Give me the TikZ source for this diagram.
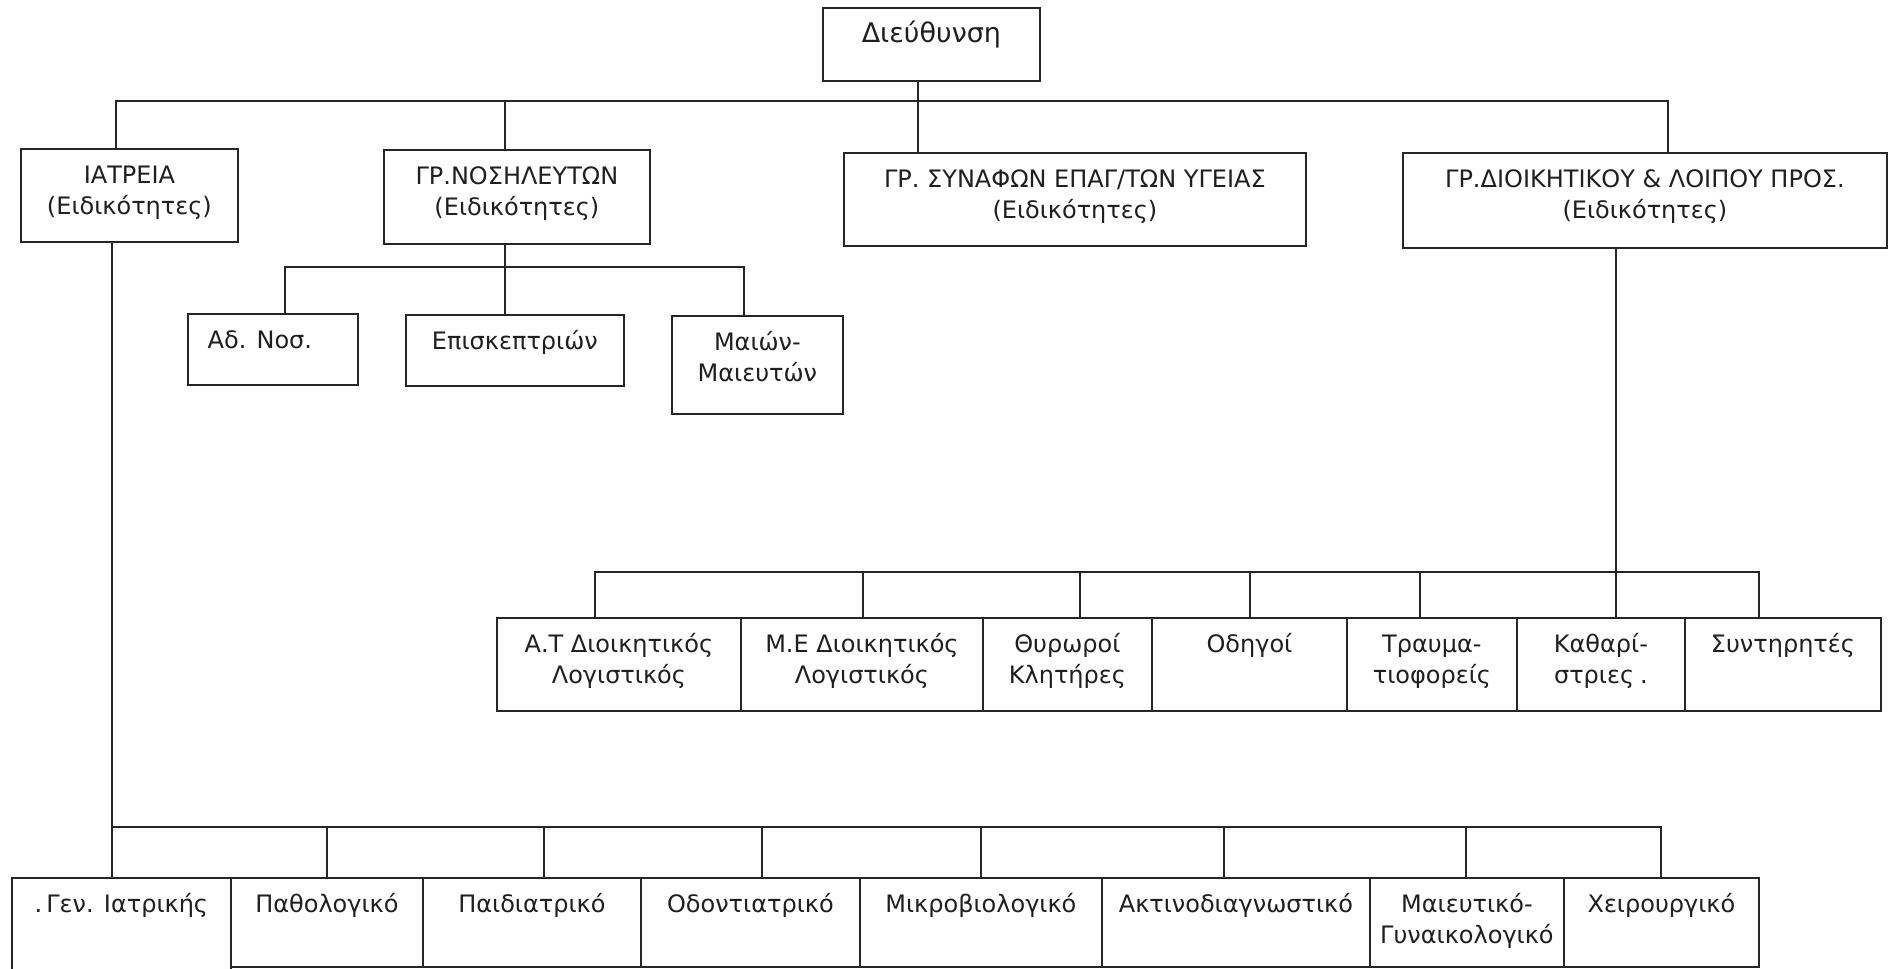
\documentclass[tikz,border=0pt]{standalone}
\usepackage{fontspec}
\setmainfont{DejaVu Sans}
\newlength\px
\setlength\px{0.5pt}
% box content: fixed size, text lines centred and hung from the top edge
\newcommand{\cell}[3]{\parbox[c][#2\px][t]{#1\px}{\centering\baselineskip=31\px\rule{0pt}{35\px}#3\par}}
\tikzset{
  box/.style={draw=black!85, line width=0.9pt, anchor=north west, inner sep=0pt,
              font=\fontsize{12pt}{15pt}\selectfont, text=black!88},
  headbox/.style={box, font=\fontsize{13.5pt}{16pt}\selectfont},
  link/.style={draw=black!85, line width=0.9pt}
}
\begin{document}
\begin{tikzpicture}[x=0.5pt,y=-0.5pt]
\useasboundingbox (0,0) rectangle (1893,968);
\clip (0,0) rectangle (1893,968);
\fill[white] (0,0) rectangle (1893,968);

% --- top level ---
\node[headbox] (dir) at (822,7) {\cell{217}{73}{Διεύθυνση}};

\node[box] (iat) at (20,148) {\cell{217}{93}{ΙΑΤΡΕΙΑ\\(Ειδικότητες)}};
\node[box] (nos) at (383,149) {\cell{266}{94}{ΓΡ.ΝΟΣΗΛΕΥΤΩΝ\\(Ειδικότητες)}};
\node[box] (syn) at (843,152) {\cell{462}{93}{ΓΡ. ΣΥΝΑΦΩΝ ΕΠΑΓ/ΤΩΝ ΥΓΕΙΑΣ\hspace*{36\px}\\(Ειδικότητες)}};
\node[box] (dio) at (1402,152) {\cell{484}{95}{ΓΡ.ΔΙΟΙΚΗΤΙΚΟΥ \& ΛΟΙΠΟΥ ΠΡΟΣ.\\(Ειδικότητες)}};

% --- nursing staff ---
\node[box] (adn) at (187,313) {\cell{170}{71}{Αδ. Νοσ.\hspace*{26\px}}};
\node[box] (epi) at (405,314) {\cell{218}{71}{Επισκεπτριών}};
\node[box] (mai) at (671,315) {\cell{171}{98}{Μαιών-\\Μαιευτών}};

% --- administrative and other staff ---
\node[box] (at)   at (496,617)  {\cell{244}{93}{Α.Τ Διοικητικός\\Λογιστικός}};
\node[box] (me)   at (740,617)  {\cell{242}{93}{Μ.Ε Διοικητικός\\Λογιστικός}};
\node[box] (thy)  at (982,617)  {\cell{169}{93}{Θυρωροί\\Κλητήρες}};
\node[box] (odi)  at (1151,617) {\cell{195}{93}{Οδηγοί}};
\node[box] (tra)  at (1346,617) {\cell{170}{93}{Τραυμα-\\τιοφορείς}};
\node[box] (kath) at (1516,617) {\cell{168}{93}{Καθαρί-\\στριες\kern3pt.}};
\node[box] (syt)  at (1684,617) {\cell{196}{93}{Συντηρητές}};

% --- medical specialties ---
\node[box] (gen)  at (11,877)   {\cell{219}{110}{.\,Γεν. Ιατρικής}};
\node[box] (pat)  at (230,877)  {\cell{192}{89}{Παθολογικό}};
\node[box] (ped)  at (422,877)  {\cell{218}{89}{Παιδιατρικό}};
\node[box] (odo)  at (640,877)  {\cell{219}{89}{Οδοντιατρικό}};
\node[box] (mik)  at (859,877)  {\cell{242}{89}{Μικροβιολογικό}};
\node[box] (akt)  at (1101,877) {\cell{268}{89}{Ακτινοδιαγνωστικό}};
\node[box] (gyn)  at (1369,877) {\cell{194}{89}{Μαιευτικό-\\Γυναικολογικό}};
\node[box] (xei)  at (1563,877) {\cell{195}{89}{Χειρουργικό}};

% --- bus coordinates ---
\coordinate (t0) at (918,101);
\coordinate (ti) at (116,101);
\coordinate (tn) at (505,101);
\coordinate (td) at (1668,101);

\coordinate (n0) at (505,267);
\coordinate (na) at (285,267);
\coordinate (nm) at (744,267);

\coordinate (d0) at (1616,572);
\coordinate (da) at (595,572);
\coordinate (db) at (863,572);
\coordinate (dc) at (1080,572);
\coordinate (dd) at (1250,572);
\coordinate (de) at (1420,572);
\coordinate (df) at (1759,572);

\coordinate (i0) at (112,827);
\coordinate (ia) at (327,827);
\coordinate (ib) at (544,827);
\coordinate (ic) at (762,827);
\coordinate (id) at (981,827);
\coordinate (ie) at (1224,827);
\coordinate (if) at (1466,827);
\coordinate (ig) at (1661,827);

% --- connectors: top level ---
\draw[link] (t0 |- dir.south) -- (t0 |- syn.north);
\draw[link] (ti |- iat.north) -- (ti) -- (td) -- (td |- dio.north);
\draw[link] (tn) -- (tn |- nos.north);

% --- connectors: nursing staff ---
\draw[link] (n0 |- nos.south) -- (n0 |- epi.north);
\draw[link] (na |- adn.north) -- (na) -- (nm) -- (nm |- mai.north);

% --- connectors: administrative staff ---
\draw[link] (d0 |- dio.south) -- (d0 |- kath.north);
\draw[link] (da |- at.north) -- (da) -- (df) -- (df |- syt.north);
\draw[link] (db) -- (db |- me.north);
\draw[link] (dc) -- (dc |- thy.north);
\draw[link] (dd) -- (dd |- odi.north);
\draw[link] (de) -- (de |- tra.north);

% --- connectors: medical specialties ---
\draw[link] (i0 |- iat.south) -- (i0 |- gen.north);
\draw[link] (i0) -- (ig) -- (ig |- xei.north);
\draw[link] (ia) -- (ia |- pat.north);
\draw[link] (ib) -- (ib |- ped.north);
\draw[link] (ic) -- (ic |- odo.north);
\draw[link] (id) -- (id |- mik.north);
\draw[link] (ie) -- (ie |- akt.north);
\draw[link] (if) -- (if |- gyn.north);
\end{tikzpicture}
\end{document}
